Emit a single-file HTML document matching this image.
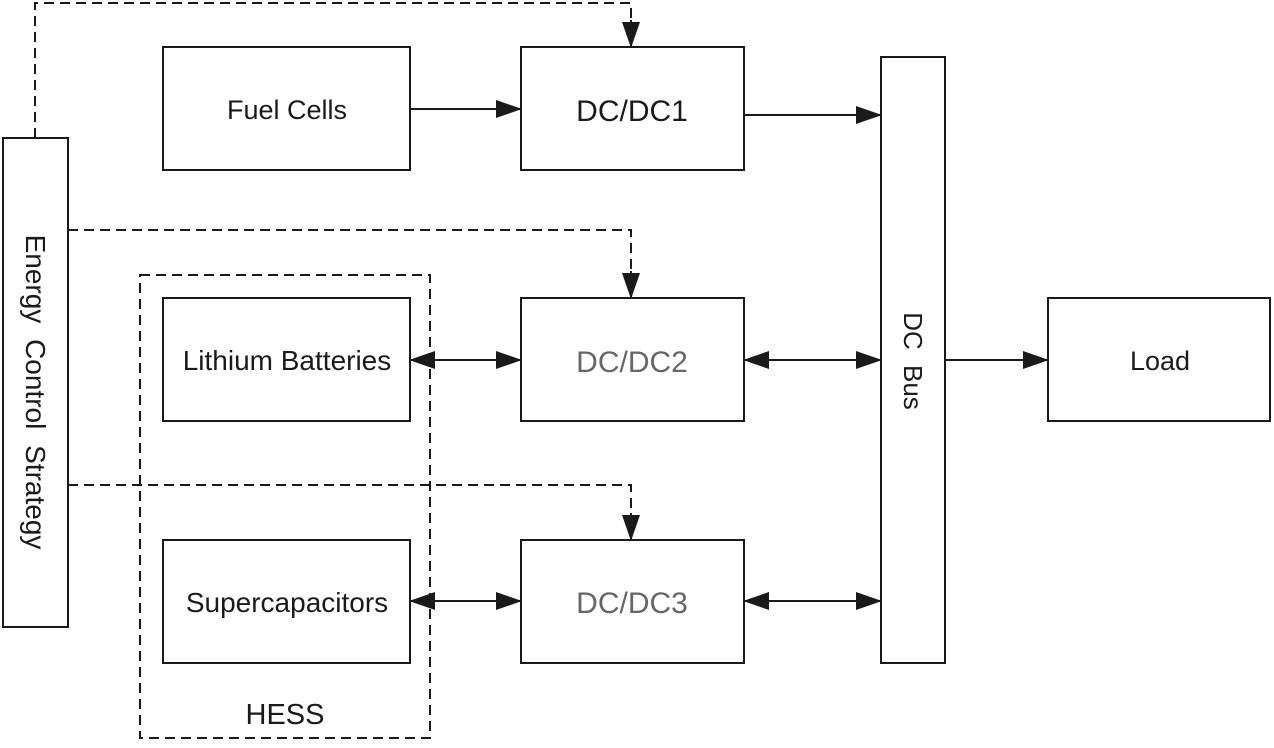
<!DOCTYPE html>
<html><head><meta charset="utf-8"><style>
html,body{margin:0;padding:0;background:#fff;}
svg text{font-family:"Liberation Sans",sans-serif;font-size:27px;fill:#1a1a1a;}
</style></head><body>
<svg width="1274" height="743" viewBox="0 0 1274 743" xmlns="http://www.w3.org/2000/svg">
<defs>
<marker id="a" markerWidth="26" markerHeight="18" refX="25" refY="9" orient="auto-start-reverse" markerUnits="userSpaceOnUse">
<path d="M0,0 L26,9 L0,18 z" fill="#1a1a1a"/></marker>
</defs>
<g fill="none" stroke="#1a1a1a" stroke-width="2">
<rect x="3" y="138" width="65" height="489"/>
<rect x="163" y="47" width="247" height="123"/>
<rect x="521" y="47" width="223" height="123"/>
<rect x="881" y="57" width="64" height="606"/>
<rect x="1048" y="298" width="222" height="123"/>
<rect x="163" y="298" width="247" height="123"/>
<rect x="521" y="298" width="223" height="123"/>
<rect x="163" y="540" width="247" height="123"/>
<rect x="521" y="540" width="223" height="123"/>
<g stroke-dasharray="10,6">
<rect x="140" y="275" width="290" height="463"/>
<path d="M35,138 V3 H631 V22"/>
<path d="M68,230 H631 V273"/>
<path d="M68,485 H631 V515"/>
</g>
<path d="M631,20 V47" marker-end="url(#a)"/>
<path d="M631,271 V298" marker-end="url(#a)"/>
<path d="M631,513 V540" marker-end="url(#a)"/>
<path d="M410,109 H521" marker-end="url(#a)"/>
<path d="M744,115 H881" marker-end="url(#a)"/>
<path d="M410,360 H521" marker-start="url(#a)" marker-end="url(#a)"/>
<path d="M744,360 H881" marker-start="url(#a)" marker-end="url(#a)"/>
<path d="M410,601 H521" marker-start="url(#a)" marker-end="url(#a)"/>
<path d="M744,601 H881" marker-start="url(#a)" marker-end="url(#a)"/>
<path d="M945,360 H1048" marker-end="url(#a)"/>
</g>
<g text-anchor="middle">
<text x="287" y="119">Fuel Cells</text>
<text x="632" y="121" style="font-size:30px">DC/DC1</text>
<text x="287" y="370" style="font-size:28px">Lithium Batteries</text>
<text x="632" y="372" style="font-size:30px;fill:#666">DC/DC2</text>
<text x="287" y="612" style="font-size:28px">Supercapacitors</text>
<text x="632" y="613" style="font-size:30px;fill:#666">DC/DC3</text>
<text x="1160" y="370">Load</text>
<text x="285" y="724" style="font-size:29px">HESS</text>
<text transform="translate(26,392) rotate(90)" style="font-size:28px;word-spacing:8px">Energy Control Strategy</text>
<text transform="translate(904,361) rotate(90)" style="font-size:26px;word-spacing:8px">DC Bus</text>
</g>
</svg>
</body></html>
